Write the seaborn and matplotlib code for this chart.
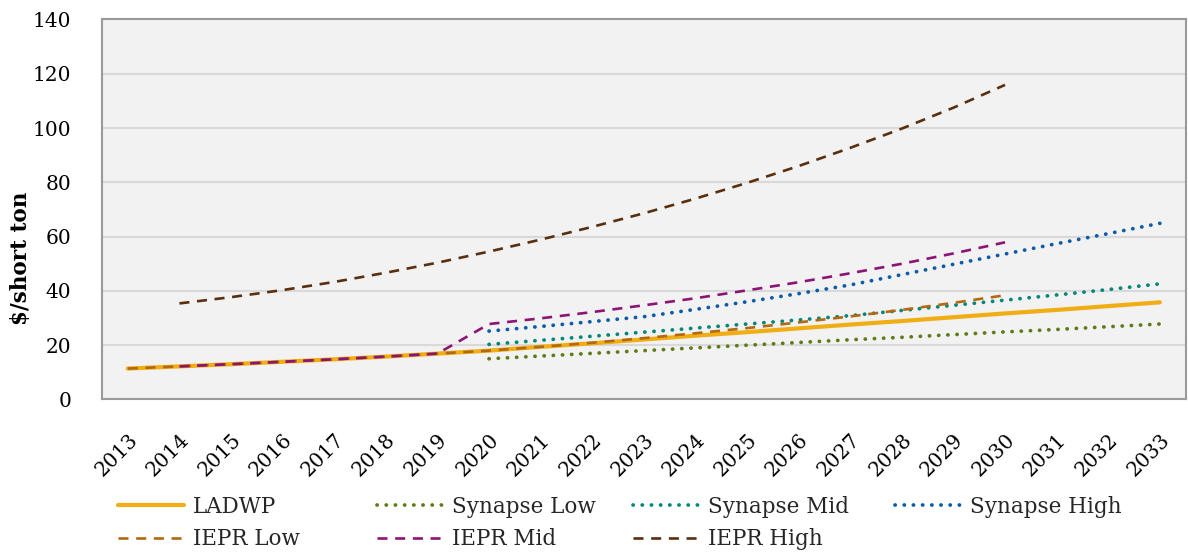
import matplotlib
matplotlib.use("Agg")
import matplotlib.pyplot as plt
from matplotlib.lines import Line2D
import seaborn as sns
import pandas as pd

# Price forecasts, $/short ton
years_all = list(range(2013, 2034))
years_synapse = list(range(2020, 2034))

ladwp = [11.4, 12.2, 13.0, 13.9, 14.8, 15.8, 16.9, 18.0, 19.4, 20.7, 22.1,
         23.5, 24.8, 26.2, 27.6, 28.9, 30.3, 31.7, 33.0, 34.4, 35.8]

synapse_low = [15.0, 16.0, 17.0, 18.0, 19.0, 20.0, 21.0, 22.0, 22.9, 23.9,
               24.9, 25.8, 26.8, 27.8]
synapse_mid = [20.3, 21.8, 23.3, 24.8, 26.3, 27.8, 29.3, 30.9, 32.8, 34.7,
               36.6, 38.5, 40.5, 42.6]
synapse_high = [25.2, 26.9, 28.7, 30.5, 33.2, 36.0, 39.0, 42.2, 46.0, 49.8,
                53.6, 57.4, 61.1, 64.9]

years_iepr_low = list(range(2013, 2031))
iepr_low = [11.4, 12.2, 13.0, 13.9, 14.8, 15.8, 16.9, 18.0, 19.4, 20.9,
            22.6, 24.4, 26.3, 28.4, 30.6, 33.0, 35.6, 38.4]

years_iepr = list(range(2014, 2031))
iepr_mid = [12.2, 13.0, 13.9, 14.8, 15.8, 16.9, 27.8, 29.9, 32.2, 34.7,
            37.3, 40.2, 43.2, 46.5, 50.0, 53.8, 57.9]
iepr_high = [35.4, 37.7, 40.3, 43.3, 46.7, 50.4, 54.5, 58.9, 63.6, 68.6,
             74.0, 79.8, 86.0, 92.7, 99.8, 107.5, 115.9]

series = [
    ("LADWP", years_all, ladwp),
    ("Synapse Low", years_synapse, synapse_low),
    ("Synapse Mid", years_synapse, synapse_mid),
    ("Synapse High", years_synapse, synapse_high),
    ("IEPR Low", years_iepr_low, iepr_low),
    ("IEPR Mid", years_iepr, iepr_mid),
    ("IEPR High", years_iepr, iepr_high),
]

colors = {
    "LADWP": "#F0AE14",
    "Synapse Low": "#5F7A17",
    "Synapse Mid": "#00877A",
    "Synapse High": "#0B5BA6",
    "IEPR Low": "#B3690F",
    "IEPR Mid": "#8C1475",
    "IEPR High": "#5A2F0E",
}

SOLID = dict(linestyle="-", linewidth=3.0, solid_capstyle="round")
DOT = dict(linestyle=(0, (0.05, 2.4)), linewidth=2.7, dash_capstyle="round")
DASH = dict(linestyle=(0, (3.8, 2.9)), linewidth=1.9, dash_capstyle="butt")
styles = {
    "LADWP": SOLID,
    "Synapse Low": DOT, "Synapse Mid": DOT, "Synapse High": DOT,
    "IEPR Low": DASH, "IEPR Mid": DASH, "IEPR High": DASH,
}

sns.set_theme(style="white")
plt.rcParams["font.family"] = ["DejaVu Serif"]

fig = plt.figure(figsize=(11.88, 5.52), dpi=100)
ax = fig.add_axes([0.0859, 0.2763, 0.9121, 0.6884])
ax.set_facecolor("#F2F2F2")

for name, yrs, vals in series:
    df = pd.DataFrame({"year": yrs, "value": vals})
    sns.lineplot(data=df, x="year", y="value", ax=ax, color=colors[name],
                 label=None, legend=False, **styles[name])

ax.set_xlim(2012.5, 2033.5)
ax.set_ylim(0, 140)
ax.set_yticks(range(0, 141, 20))
ax.set_xticks(years_all)
ax.set_xticklabels([str(y) for y in years_all], rotation=45, ha="right",
                   rotation_mode="anchor", fontsize=14.5, color="black")
ax.tick_params(axis="x", pad=22, length=0)
ax.tick_params(axis="y", pad=22, length=0, labelsize=14.5, labelcolor="black")
ax.grid(axis="y", color="#D9D9D9", linewidth=1.5)
ax.set_axisbelow(True)
ax.set_xlabel("")
ax.set_ylabel("")
for sp in ax.spines.values():
    sp.set_color("#9A9A9A")
    sp.set_linewidth(1.5)

fig.text(0.018, 1 - 258 / 552, "$/short ton", rotation=90, ha="center",
         va="center", fontsize=15.5, fontweight="bold", color="black")

# Legend: four fixed-width columns, two rows
columns = [
    (118, ["LADWP", "IEPR Low"]),
    (377, ["Synapse Low", "IEPR Mid"]),
    (633, ["Synapse Mid", "IEPR High"]),
    (895, ["Synapse High"]),
]
for x0, names in columns:
    handles = [Line2D([], [], color=colors[n], **styles[n]) for n in names]
    fig.legend(handles, names, loc="upper left",
               bbox_to_anchor=(x0 / 1188 - 0.0075, 1 - 487 / 552),
               frameon=False, fontsize=15.5, handlelength=3.1,
               handletextpad=0.4, labelspacing=0.5, borderaxespad=0)

fig.savefig("out.png", dpi=100, facecolor="white")
